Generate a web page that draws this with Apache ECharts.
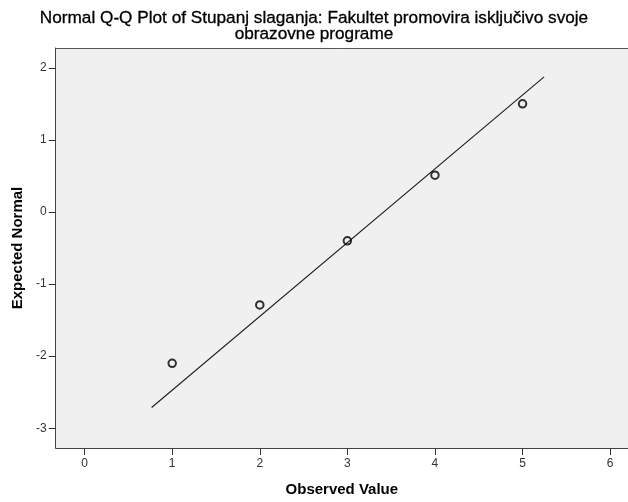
<!DOCTYPE html>
<html>
<head>
<meta charset="utf-8">
<script src="https://cdn.jsdelivr.net/npm/echarts@6/dist/echarts.min.js"></script>
<style>
html,body{margin:0;padding:0;background:#fff;}
#chart{width:628px;height:502px;}
</style>
</head>
<body>
<div id="chart"></div>
<script>
// Data
var observedValues = [1, 2, 3, 4, 5];
var expectedNormal = [-2.10, -1.29, -0.40, 0.51, 1.50];
var refLineX = [0.765, 5.246];
var refLineY = [-2.712, 1.873];
var xTicks = [0, 1, 2, 3, 4, 5, 6];
var yTicks = [-3, -2, -1, 0, 1, 2];
var titleText = 'Normal Q-Q Plot of Stupanj slaganja: Fakultet promovira isključivo svoje\nobrazovne programe';
var xAxisTitle = 'Observed Value';
var yAxisTitle = 'Expected Normal';

var chart = echarts.init(document.getElementById('chart'), null, {renderer: 'canvas'});
var font = '"Liberation Sans", Arial, sans-serif';
var option = {
  backgroundColor: '#ffffff',
  animation: false,
  title: {
    text: titleText,
    left: 'center',
    top: 5,
    textStyle: {fontFamily: font, fontSize: 17.2, fontWeight: 'normal', color: '#000', lineHeight: 16,
      textBorderColor: '#000', textBorderWidth: 0.3}
  },
  grid: {
    left: 55.7, top: 48, right: 0, height: 404.7,
    show: true, backgroundColor: '#f0f0f0', borderWidth: 0
  },
  xAxis: [{
    type: 'value', min: -0.33, max: 6.204,
    name: xAxisTitle, nameLocation: 'middle', nameGap: 34,
    nameTextStyle: {fontFamily: font, fontSize: 15, fontWeight: 'bold', color: '#000'},
    axisLine: {show: true, onZero: false, lineStyle: {color: '#444', width: 1}},
    axisTick: {show: true, length: 7, lineStyle: {color: '#333', width: 1}, customValues: xTicks},
    axisLabel: {fontFamily: font, fontSize: 12, color: '#333', margin: 10, customValues: xTicks},
    splitLine: {show: false}
  }, {
    type: 'value', position: 'top', min: -0.33, max: 6.204,
    axisLine: {show: true, onZero: false, lineStyle: {color: '#555', width: 1}},
    axisTick: {show: false}, axisLabel: {show: false}, splitLine: {show: false}
  }],
  yAxis: {
    type: 'value', min: -3.274, max: 2.274,
    name: yAxisTitle, nameLocation: 'middle', nameGap: 26,
    nameTextStyle: {fontFamily: font, fontSize: 15, fontWeight: 'bold', color: '#000'},
    axisLine: {show: true, onZero: false, lineStyle: {color: '#444', width: 1}},
    axisTick: {show: true, length: 7, lineStyle: {color: '#333', width: 1}, customValues: yTicks},
    axisLabel: {fontFamily: font, fontSize: 12, color: '#333', margin: 9, customValues: yTicks},
    splitLine: {show: false}
  },
  series: [
    {
      type: 'line',
      data: refLineX.map(function(x, i){ return [x, refLineY[i]]; }),
      showSymbol: false, symbol: 'none',
      lineStyle: {color: '#222', width: 1.2},
      silent: true, z: 2
    },
    {
      type: 'scatter',
      data: observedValues.map(function(x, i){ return [x, expectedNormal[i]]; }),
      symbol: 'circle', symbolSize: 7.5,
      itemStyle: {color: 'rgba(0,0,0,0)', borderColor: '#000', borderWidth: 2},
      z: 3
    }
  ]
};
chart.setOption(option);
</script>
</body>
</html>
